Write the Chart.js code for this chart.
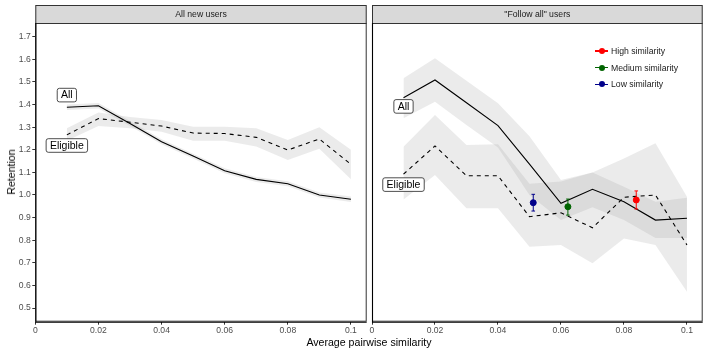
<!DOCTYPE html>
<html>
<head>
<meta charset="utf-8">
<script src="https://cdn.jsdelivr.net/npm/chart.js@4.4.0/dist/chart.umd.min.js"></script>
<style>
  body { margin: 0; background: #fff; }
  #wrap { position: relative; width: 708px; height: 354px; font-family: "Liberation Sans", Arial, sans-serif; }
  canvas { position: absolute; left: 0; top: 0; }
  .ytitle { position: absolute; left: 10.5px; top: 172px; transform: translate(-50%, -50%) rotate(-90deg); font-size: 10.6px; white-space: nowrap; color: #000; }
  .xtitle { position: absolute; left: 369px; top: 342px; transform: translate(-50%, -50%); font-size: 10.6px; white-space: nowrap; color: #000; }
  .leg { position: absolute; left: 595px; height: 12px; display: flex; align-items: center; font-size: 8.7px; color: #1a1a1a; white-space: nowrap; }
  .leg .sym { position: relative; width: 13px; height: 1.2px; margin-right: 3px; }
  .leg .dot { position: absolute; left: 3.5px; top: -2.4px; width: 6px; height: 6px; border-radius: 50%; }
</style>
</head>
<body>
<div id="wrap">
  <canvas id="left" width="708" height="354"></canvas>
  <canvas id="right" width="708" height="354"></canvas>
  <div class="ytitle">Retention</div>
  <div class="xtitle">Average pairwise similarity</div>
</div>
<script>
// similarity bins
const xs = [0.01, 0.02, 0.03, 0.04, 0.05, 0.06, 0.07, 0.08, 0.09, 0.1];
const xTicks = [0, 0.02, 0.04, 0.06, 0.08, 0.1];
const yTicks = [0.5, 0.6, 0.7, 0.8, 0.9, 1.0, 1.1, 1.2, 1.3, 1.4, 1.5, 1.6, 1.7];
const panelTitles = ["All new users", "\"Follow all\" users"];

// "All new users" panel
const newAll     = [1.388, 1.395, 1.316, 1.236, 1.172, 1.107, 1.069, 1.050, 1.000, 0.981];
const newAllLo   = [1.376, 1.383, 1.305, 1.225, 1.161, 1.096, 1.058, 1.039, 0.989, 0.969];
const newAllHi   = [1.400, 1.407, 1.327, 1.247, 1.183, 1.118, 1.080, 1.061, 1.011, 0.993];
const newElig    = [1.266, 1.338, 1.322, 1.305, 1.274, 1.272, 1.255, 1.199, 1.248, 1.136];
const newEligLo  = [1.240, 1.305, 1.295, 1.280, 1.240, 1.240, 1.215, 1.155, 1.205, 1.070];
const newEligHi  = [1.295, 1.365, 1.345, 1.332, 1.302, 1.302, 1.295, 1.243, 1.300, 1.200];

// "Follow all" panel
const folAll     = [1.430, 1.509, 1.408, 1.307, 1.137, 0.963, 1.025, 0.970, 0.889, 0.897];
const folAllLo   = [1.340, 1.413, 1.310, 1.210, 1.000, 0.889, 0.946, 0.889, 0.810, 0.810];
const folAllHi   = [1.516, 1.605, 1.505, 1.406, 1.260, 1.066, 1.100, 1.037, 0.970, 0.988];
const folElig    = [1.092, 1.217, 1.085, 1.085, 0.904, 0.921, 0.855, 0.990, 1.000, 0.779];
const folEligLo  = [0.980, 1.088, 0.941, 0.941, 0.771, 0.779, 0.698, 0.808, 0.779, 0.572];
const folEligHi  = [1.214, 1.354, 1.221, 1.225, 1.050, 1.060, 1.100, 1.162, 1.229, 0.992];

// similarity groups with error bars
const simNames  = ["High similarity", "Medium similarity", "Low similarity"];
const simColors = ["#ff0000", "#006400", "#00008b"];
const simX      = [0.0839, 0.0622, 0.0512];
const simY      = [0.978, 0.948, 0.966];
const simLo     = [0.938, 0.911, 0.929];
const simHi     = [1.018, 0.982, 1.003];

// in-panel labels
const labelText = ["All", "Eligible"];
const newLabelY = [1.442, 1.219];
const folLabelY = [1.392, 1.046];
const labelX = 0.01;

const FONT = '"Liberation Sans", Arial, sans-serif';
const ribbon = "rgba(153,153,153,0.2)";

function pts(ys) { return xs.map((x, i) => ({ x: x, y: ys[i] })); }

function ribbonSets(lo, hi) {
  return [
    { data: pts(hi), fill: "+1", backgroundColor: ribbon, borderWidth: 0, pointRadius: 0, order: 3 },
    { data: pts(lo), fill: false, borderWidth: 0, pointRadius: 0, order: 3 }
  ];
}

function lineSet(ys, dashed) {
  return { data: pts(ys), borderColor: "#000", borderWidth: 1.1, borderDash: dashed ? [4, 4] : [],
           pointRadius: 0, fill: false, tension: 0, order: 2 };
}

const panelFrame = {
  id: "panelFrame",
  afterDatasetsDraw(chart, args, opts) {
    const { ctx, scales } = chart;
    ctx.save();
    // error bars
    if (opts.errors) {
      simX.forEach((x, i) => {
        const px = scales.x.getPixelForValue(x);
        const y0 = scales.y.getPixelForValue(simLo[i]);
        const y1 = scales.y.getPixelForValue(simHi[i]);
        ctx.strokeStyle = simColors[i];
        ctx.lineWidth = 1;
        ctx.beginPath();
        ctx.moveTo(px, y0); ctx.lineTo(px, y1);
        ctx.moveTo(px - 1.8, y0); ctx.lineTo(px + 1.8, y0);
        ctx.moveTo(px - 1.8, y1); ctx.lineTo(px + 1.8, y1);
        ctx.stroke();
      });
    }
    // boxed labels
    ctx.font = "10.5px " + FONT;
    ctx.textAlign = "center";
    ctx.textBaseline = "middle";
    opts.labelY.forEach((v, i) => {
      const cx = scales.x.getPixelForValue(labelX);
      const cy = scales.y.getPixelForValue(v);
      const w = ctx.measureText(labelText[i]).width + 7.6;
      const h = 13.6;
      ctx.fillStyle = "#fff";
      ctx.strokeStyle = "#222";
      ctx.lineWidth = 0.8;
      ctx.beginPath();
      ctx.roundRect(cx - w / 2, cy - h / 2, w, h, 2.2);
      ctx.fill(); ctx.stroke();
      ctx.fillStyle = "#000";
      ctx.fillText(labelText[i], cx, cy + 0.5);
    });
    ctx.restore();
  },
  afterDraw(chart, args, opts) {
    const { ctx, chartArea: a } = chart;
    ctx.save();
    // strip
    ctx.fillStyle = "#d9d9d9";
    ctx.fillRect(a.left, 5, a.right - a.left, a.top - 5);
    ctx.strokeStyle = "#333";
    ctx.lineWidth = 1;
    ctx.strokeRect(a.left + 0.5, 5.5, a.right - a.left - 1, a.top - 5);
    ctx.fillStyle = "#1a1a1a";
    ctx.font = "8.7px " + FONT;
    ctx.textAlign = "center";
    ctx.textBaseline = "middle";
    ctx.fillText(opts.title, (a.left + a.right) / 2, 14.5);
    // panel border
    ctx.strokeStyle = "#333";
    ctx.strokeRect(a.left + 0.5, a.top + 0.5, a.right - a.left - 1, a.bottom - a.top - 1);
    // axis lines
    ctx.strokeStyle = "#000";
    ctx.lineWidth = 1.1;
    ctx.beginPath();
    ctx.moveTo(a.left + 0.5, a.top); ctx.lineTo(a.left + 0.5, a.bottom + 0.5);
    ctx.lineTo(a.right, a.bottom + 0.5);
    ctx.stroke();
    ctx.restore();
  }
};

function xScale() {
  return {
    type: "linear", min: 0, max: 0.105,
    afterBuildTicks: s => { s.ticks = xTicks.map(v => ({ value: v })); },
    afterFit: s => { s.height = 32.3; },
    grid: { drawOnChartArea: false, drawTicks: true, tickLength: 3, tickColor: "#333", tickWidth: 1 },
    border: { display: false },
    ticks: { color: "#4d4d4d", font: { family: FONT, size: 8.6 }, padding: 1, maxRotation: 0,
             callback: v => String(+v.toFixed(2)) }
  };
}

function yScale(show) {
  return {
    type: "linear", min: 0.4394, max: 1.761, display: show,
    afterBuildTicks: s => { s.ticks = yTicks.map(v => ({ value: v })); },
    afterFit: s => { s.width = show ? 35.3 : 0; },
    grid: { drawOnChartArea: false, drawTicks: true, tickLength: 3, tickColor: "#333", tickWidth: 1 },
    border: { display: false },
    ticks: { color: "#4d4d4d", font: { family: FONT, size: 8.6 }, padding: 1.5,
             callback: v => v.toFixed(1) }
  };
}

function baseOptions(pad, showY, title, labelY, errors) {
  return {
    responsive: false,
    animation: false,
    layout: { padding: pad },
    scales: { x: xScale(), y: yScale(showY) },
    plugins: {
      legend: { display: false },
      tooltip: { enabled: false },
      panelFrame: { title: title, labelY: labelY, errors: errors }
    }
  };
}

new Chart(document.getElementById("left"), {
  type: "line",
  data: {
    datasets: [
      lineSet(newAll, false),
      lineSet(newElig, true),
      ...ribbonSets(newAllLo, newAllHi),
      ...ribbonSets(newEligLo, newEligHi)
    ]
  },
  options: baseOptions({ left: 0, right: 341.3, top: 23, bottom: 0 }, true, panelTitles[0], newLabelY, false),
  plugins: [panelFrame]
});

new Chart(document.getElementById("right"), {
  type: "line",
  data: {
    datasets: [
      { type: "scatter", data: simX.map((x, i) => ({ x: x, y: simY[i] })),
        pointBackgroundColor: simColors, pointBorderColor: simColors, pointRadius: 3, order: 1 },
      lineSet(folAll, false),
      lineSet(folElig, true),
      ...ribbonSets(folAllLo, folAllHi),
      ...ribbonSets(folEligLo, folEligHi)
    ]
  },
  options: baseOptions({ left: 372, right: 5.3, top: 23, bottom: 0 }, false, panelTitles[1], folLabelY, true),
  plugins: [panelFrame]
});

// legend
const legendTop = [51, 67.7, 84.3];
const wrap = document.getElementById("wrap");
simNames.forEach((name, i) => {
  const d = document.createElement("div");
  d.className = "leg";
  d.style.top = (legendTop[i] - 6) + "px";
  d.innerHTML = '<span class="sym" style="background:' + simColors[i] + '"><span class="dot" style="background:' +
    simColors[i] + '"></span></span><span>' + name + '</span>';
  wrap.appendChild(d);
});
</script>
</body>
</html>
